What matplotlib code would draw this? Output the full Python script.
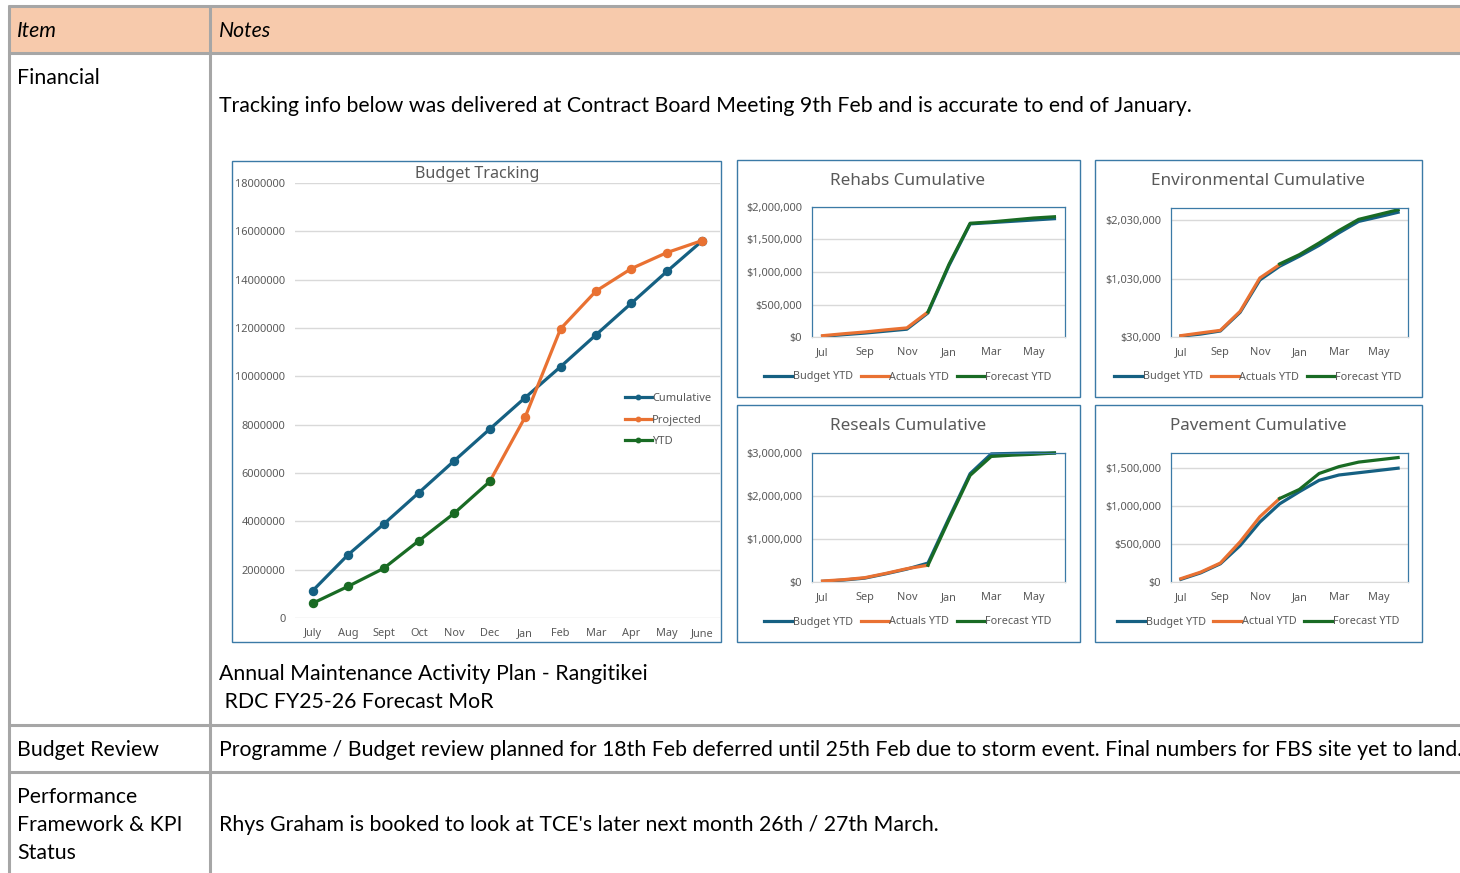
import numpy as np
import matplotlib
matplotlib.use("Agg")
import matplotlib.pyplot as plt
from matplotlib.patches import Rectangle
from matplotlib.ticker import FuncFormatter, MultipleLocator

nan = np.nan
W, H = 1460, 873

# ---- data ----
bt_months = ["July", "Aug", "Sept", "Oct", "Nov", "Dec", "Jan", "Feb", "Mar", "Apr", "May", "June"]
bt_cumulative = [1130000, 2620000, 3880000, 5190000, 6510000, 7820000,
                 9120000, 10400000, 11720000, 13030000, 14340000, 15610000]
bt_projected = [nan, nan, nan, nan, nan, 5650000,
                8320000, 11970000, 13530000, 14460000, 15120000, 15620000]
bt_ytd = [610000, 1310000, 2050000, 3200000, 4340000, 5650000,
          nan, nan, nan, nan, nan, nan]

months = ["Jul", "Aug", "Sep", "Oct", "Nov", "Dec", "Jan", "Feb", "Mar", "Apr", "May", "Jun"]

rehabs_budget = [10000, 36000, 60000, 90000, 120000, 370000, 1100000, 1740000, 1760000, 1780000, 1800000, 1820000]
rehabs_actuals = [20000, 50000, 77000, 110000, 140000, 385000, nan, nan, nan, nan, nan, nan]
rehabs_forecast = [nan, nan, nan, nan, nan, 385000, 1120000, 1750000, 1770000, 1800000, 1830000, 1850000]

env_budget = [45000, 80000, 133000, 453000, 1007000, 1241000, 1413000, 1600000, 1813000, 2010000, 2087000, 2167000]
env_actuals = [53000, 99000, 144000, 470000, 1041000, 1270000, nan, nan, nan, nan, nan, nan]
env_forecast = [nan, nan, nan, nan, nan, 1281000, 1441000, 1641000, 1853000, 2045000, 2127000, 2210000]

reseals_budget = [15000, 45000, 90000, 190000, 300000, 440000, 1490000, 2520000, 2980000, 2990000, 3000000, 3000000]
reseals_actuals = [23000, 54000, 100000, 200000, 310000, 390000, nan, nan, nan, nan, nan, nan]
reseals_forecast = [nan, nan, nan, nan, nan, 390000, 1450000, 2480000, 2920000, 2950000, 2970000, 3000000]

pave_budget = [35000, 120000, 240000, 480000, 790000, 1030000, 1190000, 1340000, 1410000, 1440000, 1470000, 1500000]
pave_actuals = [44000, 130000, 250000, 530000, 860000, 1100000, nan, nan, nan, nan, nan, nan]
pave_forecast = [nan, nan, nan, nan, nan, 1100000, 1220000, 1430000, 1520000, 1580000, 1610000, 1640000]

BLUE = "#156082"
ORANGE = "#E97132"
GREEN = "#196B24"
GRID = "#d9d9d9"
TXT = "#595959"
BOX = "#3b7aa6"
TABLE_LINE = "#a6a6a6"
PEACH = "#F7CAAC"

BODY_FONT = "Lato"
CHART_FONT = "Noto Sans"


def px_rect(x0, y0, x1, y1):
    return [x0 / W, 1 - y1 / H, (x1 - x0) / W, (y1 - y0) / H]


fig = plt.figure(figsize=(W / 100, H / 100), dpi=100)
bg = fig.add_axes([0, 0, 1, 1])
bg.set_xlim(0, W)
bg.set_ylim(H, 0)
bg.axis("off")

# ---- table ----
bg.add_patch(Rectangle((9, 6), W - 9, 47, facecolor=PEACH, edgecolor="none"))
lw_tab = 2.2
for y in [6, 53, 725, 772]:
    bg.plot([8, W], [y, y], color=TABLE_LINE, lw=lw_tab, solid_capstyle="butt")
for x in [9, 210]:
    bg.plot([x, x], [5, H], color=TABLE_LINE, lw=lw_tab, solid_capstyle="butt")

tfs = 15.3
bg.text(17, 31, "Item", fontsize=tfs, style="italic", family=BODY_FONT, va="center")
bg.text(219, 31, "Notes", fontsize=tfs, style="italic", family=BODY_FONT, va="center")
bg.text(17, 78, "Financial", fontsize=tfs, family=BODY_FONT, va="center")
bg.text(219, 106, "Tracking info below was delivered at Contract Board Meeting 9th Feb and is accurate to end of January.",
        fontsize=tfs, family=BODY_FONT, va="center")
bg.text(219, 674, "Annual Maintenance Activity Plan - Rangitikei", fontsize=tfs, family=BODY_FONT, va="center")
bg.text(219, 702, " RDC FY25-26 Forecast MoR", fontsize=tfs, family=BODY_FONT, va="center")
bg.text(17, 750, "Budget Review", fontsize=tfs, family=BODY_FONT, va="center")
bg.text(219, 750, "Programme / Budget review planned for 18th Feb deferred until 25th Feb due to storm event. "
        "Final numbers for FBS site yet to land.", fontsize=tfs, family=BODY_FONT, va="center")
bg.text(17, 797, "Performance", fontsize=tfs, family=BODY_FONT, va="center")
bg.text(17, 825, "Framework & KPI", fontsize=tfs, family=BODY_FONT, va="center")
bg.text(17, 853, "Status", fontsize=tfs, family=BODY_FONT, va="center")
bg.text(219, 825, "Rhys Graham is booked to look at TCE's later next month 26th / 27th March.",
        fontsize=tfs, family=BODY_FONT, va="center")

# ---- chart boxes ----
boxes = [(232, 161, 721, 642), (737, 160, 1080, 397), (1095, 160, 1422, 397),
         (737, 405, 1080, 642), (1095, 405, 1422, 642)]
for x0, y0, x1, y1 in boxes:
    bg.add_patch(Rectangle((x0, y0), x1 - x0, y1 - y0, facecolor="white", edgecolor=BOX, lw=1.0))

# ---- Budget Tracking ----
ax = fig.add_axes(px_rect(295, 183, 720, 618))
ax.set_facecolor("none")
xs = np.arange(len(bt_months))
ax.plot(xs, bt_cumulative, color=BLUE, lw=2.3, marker="o", ms=5.8, label="Cumulative")
ax.plot(xs, bt_projected, color=ORANGE, lw=2.3, marker="o", ms=5.8, label="Projected")
ax.plot(xs, bt_ytd, color=GREEN, lw=2.3, marker="o", ms=5.8, label="YTD")
ax.set_xlim(-0.5, len(bt_months) - 0.5)
ax.set_ylim(0, 18000000)
ax.yaxis.set_major_locator(MultipleLocator(2000000))
ax.yaxis.set_major_formatter(FuncFormatter(lambda v, p: f"{int(v)}"))
ax.set_xticks(xs)
ax.set_xticklabels(bt_months)
ax.grid(axis="y", color=GRID, lw=1)
ax.set_axisbelow(True)
for s in ax.spines.values():
    s.set_visible(False)
ax.tick_params(length=0, labelsize=7.9, labelcolor=TXT, pad=7)
for lab in ax.get_xticklabels() + ax.get_yticklabels():
    lab.set_family(CHART_FONT)
ax.legend(loc="upper left", bbox_to_anchor=(615 / W, 1 - 383 / H), bbox_transform=fig.transFigure,
          frameon=False, handlelength=2.4, handletextpad=0.05, labelspacing=0.95,
          prop={"family": CHART_FONT, "size": 8}, labelcolor=TXT, markerscale=0.55)
bg.text(477, 174, "Budget Tracking", fontsize=11.6, color=TXT, family=CHART_FONT, ha="center", va="center")


# ---- small cumulative charts ----
def money(v, p):
    return f"${int(round(v)):,}"


def small_chart(rect, title, title_xy, budget, actuals, forecast, ylim, yticks, actual_label, leg_y):
    a = fig.add_axes(px_rect(*rect))
    a.set_facecolor("none")
    x = np.arange(len(months))
    a.plot(x, budget, color=BLUE, lw=2.3, clip_on=False, label="Budget YTD")
    a.plot(x, actuals, color=ORANGE, lw=2.3, clip_on=False, label=actual_label)
    a.plot(x, forecast, color=GREEN, lw=2.3, clip_on=False, label="Forecast YTD")
    a.set_xlim(-0.5, len(months) - 0.5)
    a.set_ylim(*ylim)
    a.set_yticks(yticks)
    a.yaxis.set_major_formatter(FuncFormatter(money))
    a.set_xticks(x[::2])
    a.set_xticklabels(months[::2])
    a.grid(axis="y", color=GRID, lw=1)
    a.set_axisbelow(True)
    for side in ["left", "top", "right"]:
        a.spines[side].set_color(BOX)
        a.spines[side].set_linewidth(0.9)
    a.spines["bottom"].set_color(GRID)
    a.tick_params(length=0, labelsize=7.9, labelcolor=TXT, pad=7)
    for lab in a.get_xticklabels() + a.get_yticklabels():
        lab.set_family(CHART_FONT)
    a.legend(loc="center", bbox_to_anchor=(title_xy[0] / W, 1 - leg_y / H), bbox_transform=fig.transFigure,
             ncol=3, frameon=False, handlelength=2.6, handletextpad=0.05, columnspacing=0.7,
             prop={"family": CHART_FONT, "size": 7.8}, labelcolor=TXT)
    bg.text(title_xy[0], title_xy[1], title, fontsize=12.3, color=TXT, family=CHART_FONT,
            ha="center", va="center")
    return a


small_chart((812, 207, 1065, 337), "Rehabs Cumulative", (908, 181),
            rehabs_budget, rehabs_actuals, rehabs_forecast, (0, 2000000),
            [0, 500000, 1000000, 1500000, 2000000], "Actuals YTD", 377)
small_chart((1171, 208, 1408, 337), "Environmental Cumulative", (1258, 181),
            env_budget, env_actuals, env_forecast, (30000, 2240000),
            [30000, 1030000, 2030000], "Actuals YTD", 377)
small_chart((812, 453, 1065, 582), "Reseals Cumulative", (908, 426),
            reseals_budget, reseals_actuals, reseals_forecast, (0, 3000000),
            [0, 1000000, 2000000, 3000000], "Actuals YTD", 622)
small_chart((1171, 453, 1408, 582), "Pavement Cumulative", (1258, 426),
            pave_budget, pave_actuals, pave_forecast, (0, 1700000),
            [0, 500000, 1000000, 1500000], "Actual YTD", 622)

fig.savefig("out.png", dpi=100)
